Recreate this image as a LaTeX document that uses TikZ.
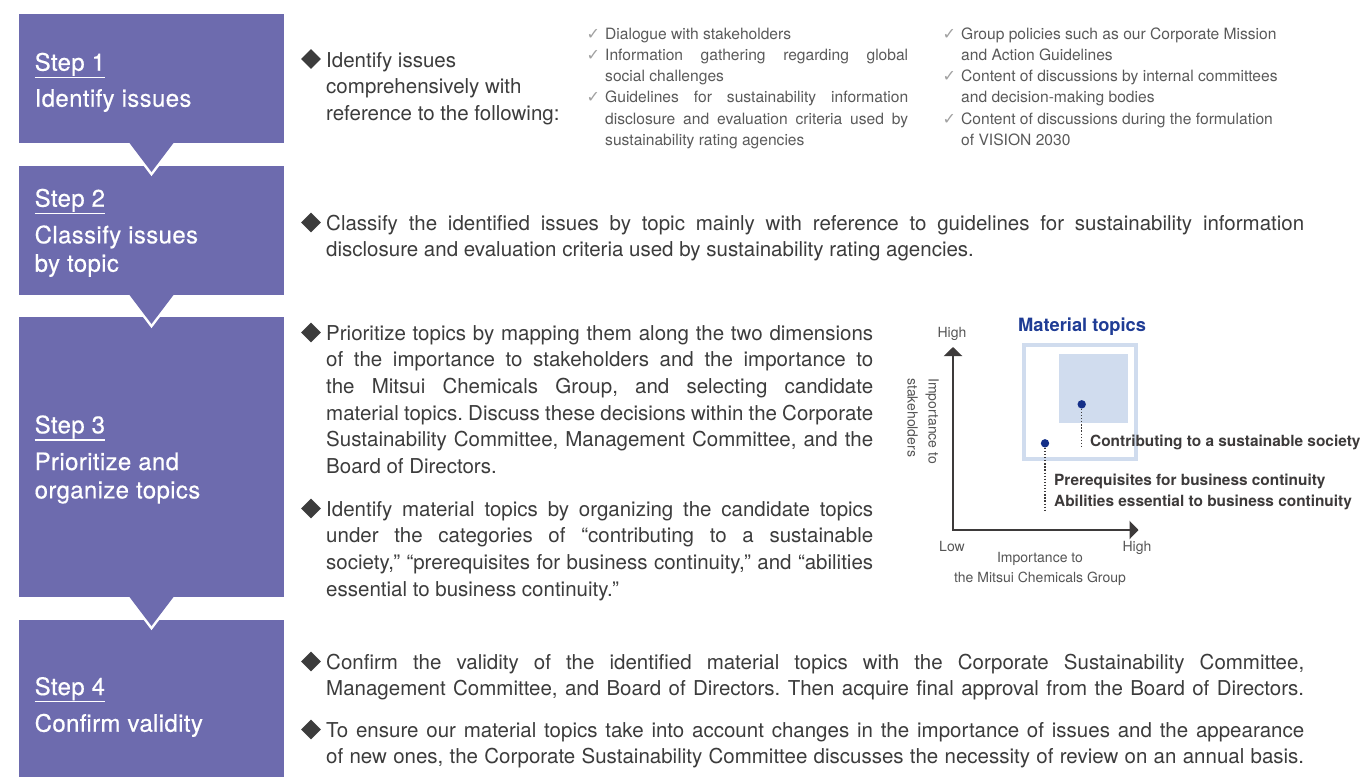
\documentclass[tikz,border=0pt]{standalone}
\usepackage{fontspec}
\setmainfont{TeX Gyre Heros}
\newfontfamily\djv{DejaVu Sans}
\newfontfamily\stepfont[LetterSpace=1.5,FakeBold=0.4]{TeX Gyre Heros}
\usetikzlibrary{shapes.geometric,arrows.meta}
\definecolor{stepc}{HTML}{6D6BAE}
\definecolor{bodyc}{HTML}{3C3C3C}
\definecolor{listc}{HTML}{5A5A5A}
\definecolor{checkc}{HTML}{A0A0A0}
\definecolor{axisc}{HTML}{3D3A3A}
\definecolor{mtblue}{HTML}{1F3C95}
\definecolor{dotc}{HTML}{142F88}
\definecolor{lightblue}{HTML}{D0DCEE}
\definecolor{chartc}{HTML}{555555}
\frenchspacing
\begin{document}
\frenchspacing
\begin{tikzpicture}[x=1pt,y=-1pt,
  stepbox/.style={fill=stepc,draw=none,anchor=north west,inner sep=0,outer sep=0,minimum width=265pt},
  steplab/.style={anchor=base west,inner sep=0,text=white,font=\stepfont\fontsize{24}{28.4}\selectfont},
  stepline/.style={white,line width=1.5pt},
  bulletmark/.style={diamond,aspect=1,fill=bodyc,minimum width=20pt,minimum height=20pt,inner sep=0},
  body/.style={anchor=base west,inner sep=0,text=bodyc,font=\fontsize{20.5}{26.7}\selectfont},
  listtext/.style={anchor=base west,inner sep=0,text=listc,font=\fontsize{15.6}{21.3}\selectfont},
  checkmark/.style={anchor=base west,inner sep=0,text=checkc,font=\djv\fontsize{16}{17}\selectfont},
  chartlab/.style={inner sep=0,text=chartc,font=\fontsize{14}{21}\selectfont},
  catlab/.style={anchor=base west,inner sep=0,text=axisc,font=\bfseries\fontsize{15.4}{21.5}\selectfont},
  dotline/.style={axisc,line width=1.3pt,dash pattern=on 1.3pt off 1.8pt},
  dotmark/.style={circle,fill=dotc,minimum size=8.4pt,inner sep=0}
]
\useasboundingbox (0,0) rectangle (1360,777);
\fill[white] (0,0) rectangle (1360,777);

% step boxes
\node[stepbox,minimum height=129pt] (s1) at (19,14) {};
\node[stepbox,minimum height=129pt] (s2) at (19,166) {};
\node[stepbox,minimum height=280pt] (s3) at (19,317) {};
\node[stepbox,minimum height=157pt] (s4) at (19,620) {};

% triangles
\foreach \yt in {143,295,597}{
  \begin{scope}
    \clip (100,\yt) rectangle (200,\yt+40);
    \draw[white,line width=5pt,line join=miter] (129.5,\yt) -- (151.5,\yt+29) -- (173.5,\yt);
  \end{scope}
  \fill[stepc] (129.5,\yt) -- (173.5,\yt) -- (151.5,\yt+29) -- cycle;
}

% step labels
\node[steplab] (st1) at (34.5,70.7) {Step 1};
\draw[stepline] ([yshift=-6.6pt]st1.base west) -- ([yshift=-6.6pt]st1.base east);
\node[steplab] (n1) at (34.5,106.7) {Identify issues};

\node[steplab] (st2) at (34.5,206.7) {Step 2};
\draw[stepline] ([yshift=-6.6pt]st2.base west) -- ([yshift=-6.6pt]st2.base east);
\node[steplab] (n2) at (34.5,243.3) {\parbox[t]{240pt}{Classify issues\\by topic}};

\node[steplab] (st3) at (34.5,433.3) {Step 3};
\draw[stepline] ([yshift=-6.6pt]st3.base west) -- ([yshift=-6.6pt]st3.base east);
\node[steplab] (n3) at (34.5,470) {\parbox[t]{240pt}{Prioritize and\\organize topics}};

\node[steplab] (st4) at (34.5,695) {Step 4};
\draw[stepline] ([yshift=-6.6pt]st4.base west) -- ([yshift=-6.6pt]st4.base east);
\node[steplab] (n4) at (34.5,731.7) {Confirm validity};

% step 1 body
\node[bulletmark] (b1) at (311,59) {};
\node[body] (t1) at (326,67) {\parbox[t]{255pt}{Identify issues\\comprehensively with\\reference to the following:}};

% checklist column 1
\node[checkmark] (c1) at (586.5,39) {✓};
\node[listtext] (l1) at (605,39) {Dialogue with stakeholders};
\node[checkmark] (c2) at (586.5,60) {✓};
\node[listtext] (l2) at (605,60) {\parbox[t]{303pt}{\makebox[303pt][s]{Information gathering regarding global}\\social challenges}};
\node[checkmark] (c3) at (586.5,102.7) {✓};
\node[listtext] (l3) at (605,102.7) {\parbox[t]{303pt}{\makebox[303pt][s]{Guidelines for sustainability information}\\\makebox[303pt][s]{disclosure and evaluation criteria used by}\\sustainability rating agencies}};

% checklist column 2
\node[checkmark] (c4) at (942.5,39) {✓};
\node[listtext] (l4) at (961,39) {\parbox[t]{330pt}{Group policies such as our Corporate Mission\\and Action Guidelines}};
\node[checkmark] (c5) at (942.5,81) {✓};
\node[listtext] (l5) at (961,81) {\parbox[t]{330pt}{Content of discussions by internal committees\\and decision-making bodies}};
\node[checkmark] (c6) at (942.5,124) {✓};
\node[listtext] (l6) at (961,124) {\parbox[t]{330pt}{Content of discussions during the formulation\\of VISION 2030}};

% step 2 body
\node[bulletmark] (b2) at (311,222.5) {};
\node[body] (t2) at (326,230) {\parbox[t]{978pt}{\makebox[978pt][s]{Classify the identified issues by topic mainly with reference to guidelines for sustainability information}\\disclosure and evaluation criteria used by sustainability rating agencies.}};

% step 3 body
\node[bulletmark] (b3) at (311,332.5) {};
\node[body] (t3) at (326,340) {\parbox[t]{547pt}{%
\makebox[547pt][s]{Prioritize topics by mapping them along the two dimensions}\\
\makebox[547pt][s]{of the importance to stakeholders and the importance to}\\
\makebox[547pt][s]{the Mitsui Chemicals Group, and selecting candidate}\\
\makebox[547pt][s]{material topics. Discuss these decisions within the Corporate}\\
\makebox[547pt][s]{Sustainability Committee, Management Committee, and the}\\
Board of Directors.}};
\node[bulletmark] (b4) at (311,508.5) {};
\node[body] (t4) at (326,516) {\parbox[t]{547pt}{%
\makebox[547pt][s]{Identify material topics by organizing the candidate topics}\\
\makebox[547pt][s]{under the categories of “contributing to a sustainable}\\
\makebox[547pt][s]{society,” “prerequisites for business continuity,” and “abilities}\\
essential to business continuity.”}};

% step 4 body
\node[bulletmark] (b5) at (311,661.5) {};
\node[body] (t5) at (326,669) {\parbox[t]{978pt}{%
\makebox[978pt][s]{Confirm the validity of the identified material topics with the Corporate Sustainability Committee,}\\
\makebox[978pt][s]{Management Committee, and Board of Directors. Then acquire final approval from the Board of Directors.}}};
\node[bulletmark] (b6) at (311,729.5) {};
\node[body] (t6) at (326,737) {\parbox[t]{978pt}{%
\makebox[978pt][s]{To ensure our material topics take into account changes in the importance of issues and the appearance}\\
\makebox[978pt][s]{of new ones, the Corporate Sustainability Committee discusses the necessity of review on an annual basis.}}};

% chart
\draw[lightblue,line width=4pt] (1023.7,345.3) rectangle (1136.3,458.7);
\fill[lightblue] (1059.3,354) rectangle (1128.3,422.7);
\node[anchor=base west,inner sep=0,text=mtblue,font=\bfseries\fontsize{18.3}{20}\selectfont] (mt) at (1018,331.7) {Material topics};

\coordinate (O) at (953,530);
\coordinate (ytop) at (953,347);
\coordinate (xend) at (1138.5,530);
\draw[axisc,line width=2.2pt,line join=miter,{Triangle[length=9pt,width=18pt]}-{Triangle[length=9pt,width=18pt]}] (ytop) -- (O) -- (xend);

\node[chartlab,anchor=base] (hi1) at (952,337.5) {High};
\node[chartlab,anchor=base] (lo) at (952,551.5) {Low};
\node[chartlab,anchor=base] (hi2) at (1137,551.5) {High};
\node[chartlab,anchor=base] (xl1) at (1040,562.5) {Importance to};
\node[chartlab,anchor=base] (xl2) at (1040,582) {the Mitsui Chemicals Group};
\node[chartlab,rotate=-90,anchor=north west,align=left] (yl) at (939,378) {Importance to\\stakeholders};

\node[dotmark] (d1) at (1081.7,404.3) {};
\node[dotmark] (d2) at (1045,443.3) {};
\coordinate (e1) at (1081.7,448);
\coordinate (e2) at (1045,512);
\draw[dotline] (d1.south) -- (e1);
\draw[dotline] (d2.south) -- (e2);

\node[catlab] (cat1) at (1090,446) {Contributing to a sustainable society};
\node[catlab] (cat2) at (1054,485) {Prerequisites for business continuity};
\node[catlab] (cat3) at (1054,506.7) {Abilities essential to business continuity};
\end{tikzpicture}
\end{document}
